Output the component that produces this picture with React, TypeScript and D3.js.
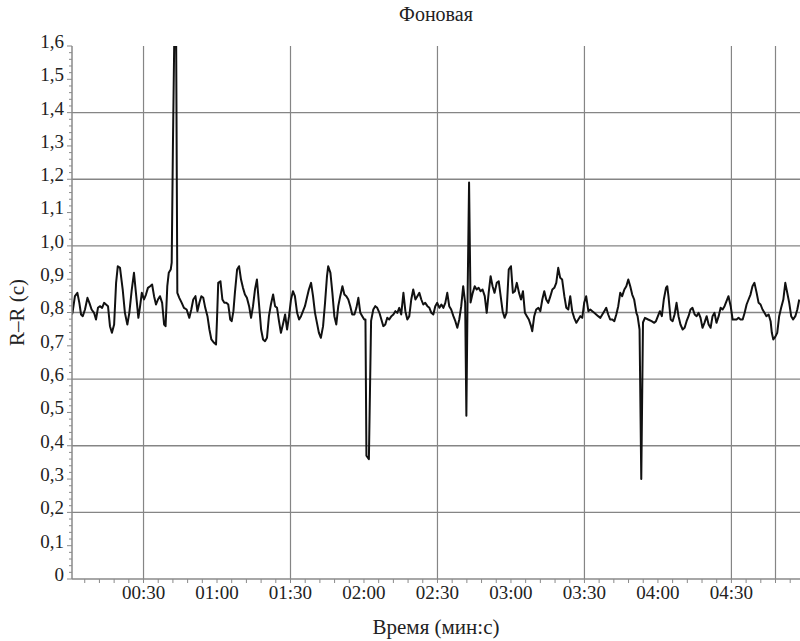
import React from "react";
import * as d3 from "d3";

// Record time (s) and R-R interval (s)
const times = [
  0.8, 1.1, 2.0, 3.0, 3.8, 4.5, 5.2, 6.1, 7.1, 7.9, 8.8, 9.8, 10.6, 11.4, 12.2, 13.1, 13.9, 14.7, 15.5, 16.3,
  17.1, 18.0, 18.8, 19.5, 20.4, 21.5, 22.4, 23.4, 24.2, 25.2, 26.1, 26.9, 27.9, 28.6, 29.3, 30.2, 31.0, 31.8,
  32.7, 33.5, 34.3, 35.1, 35.9, 36.7, 37.6, 38.4, 39.0, 39.7, 40.3, 41.1, 41.5, 42.0, 42.6, 43.3, 43.8, 44.6,
  45.6, 46.5, 47.6, 48.7, 49.5, 50.3, 51.2, 52.0, 52.8, 53.6, 54.4, 55.2, 56.1, 56.9, 57.7, 58.8, 59.6,
  60.0, 60.5, 61.4, 62.2, 63.0, 63.8, 64.6, 65.4, 66.0, 66.7, 67.3, 68.2, 69.0, 69.8, 70.6, 71.4, 72.2, 73.1,
  73.9, 74.7, 75.5, 76.3, 77.1, 78.0, 78.8, 79.6, 80.4, 81.2, 82.0, 82.9, 83.7, 84.5, 85.3, 86.1, 86.9, 87.8,
  88.6, 89.4, 90.2, 91.0, 91.8, 92.7, 93.5, 94.3, 95.1, 95.9, 96.7, 97.5, 98.4, 99.2, 100.0, 100.8, 101.6,
  102.4, 103.3, 104.1, 104.9, 105.4, 106.3, 107.1, 107.9, 108.7, 109.5, 110.3, 111.2, 112.0, 112.8, 113.6,
  114.4, 115.2, 116.1, 116.9, 117.7, 118.5, 119.3, 120.1,
  120.6, 121.0, 122.0, 122.9, 123.8, 124.6, 125.4, 126.3, 127.1, 127.9, 128.7, 129.5, 130.3, 131.2, 132.0,
  132.8, 133.6, 134.4, 135.2, 136.1, 136.9, 137.7, 138.5, 139.3, 140.1, 141.0, 141.8, 142.6, 143.4, 144.2,
  145.0, 145.9, 146.7, 147.5, 148.3, 149.1, 149.9, 150.8, 151.6, 152.4, 153.2, 154.0, 154.8, 155.6, 156.5,
  157.3, 158.1, 158.9, 159.7, 160.5, 161.3, 161.8, 162.3, 162.9, 163.5, 164.4, 165.2, 166.0, 166.8, 167.6,
  168.4, 169.3, 170.1, 170.9, 171.7, 172.5, 173.3, 174.2, 175.0, 175.8, 176.6, 177.4, 178.2, 179.1,
  180.0, 180.8, 181.6, 182.4, 183.3, 184.1, 184.9, 185.7, 186.5, 187.3, 188.2, 188.7, 189.5, 190.3, 191.2,
  192.0, 192.8, 193.6, 194.4, 195.2, 196.1, 196.9, 197.7, 198.5, 199.3, 200.1, 200.9, 201.8, 202.6, 203.4,
  204.2, 205.0, 205.8, 206.7, 207.5, 208.3, 209.1, 209.9, 210.7, 211.6, 212.4, 213.2, 214.0, 214.8, 215.6,
  216.5, 217.3, 218.1, 218.9, 219.7, 220.5, 221.4, 222.2, 223.0, 223.8, 224.6, 225.4, 226.3, 227.1, 227.9,
  228.7, 229.5, 230.3, 231.2, 231.7, 232.5, 233.2, 233.9, 234.7, 236.0, 237.4, 238.5,
  239.2, 240.0, 240.8, 241.6, 242.4, 243.3, 243.8, 244.3, 245.2, 246.0, 246.8, 247.6, 248.4, 249.2, 250.1,
  250.9, 251.7, 252.5, 253.3, 254.1, 255.0, 255.8, 256.6, 257.4, 258.2, 259.0, 259.9, 260.7, 261.5, 262.3,
  263.1, 263.9, 264.8, 265.6, 266.4, 267.2, 268.0, 268.8, 269.7, 270.5, 271.3, 272.1, 272.9, 273.7, 274.6,
  275.4, 276.2, 277.0, 277.8, 278.6, 279.4, 280.3, 281.1, 281.9, 282.7, 283.5, 284.3, 285.2, 286.0, 286.5,
  287.1, 287.9, 288.7, 289.5, 290.3, 291.2, 292.0, 292.8, 293.6, 294.4, 295.2, 296.1, 296.9, 297.7,
];

const rr = [
  0.794, 0.804, 0.849, 0.859, 0.829, 0.794, 0.789, 0.809, 0.844, 0.829, 0.809, 0.799, 0.779, 0.814, 0.819, 0.814, 0.829, 0.824, 0.819, 0.759,
  0.739, 0.764, 0.889, 0.939, 0.934, 0.869, 0.799, 0.764, 0.799, 0.869, 0.919, 0.859, 0.784, 0.819, 0.859, 0.839, 0.854, 0.874,
  0.879, 0.884, 0.849, 0.824, 0.839, 0.849, 0.829, 0.764, 0.759, 0.879, 0.919, 0.929, 0.95, 1.3, 1.65, 1.65, 0.859, 0.844,
  0.829, 0.814, 0.809, 0.784, 0.809, 0.839, 0.849, 0.804, 0.829, 0.849, 0.844, 0.814, 0.789, 0.749, 0.719, 0.709, 0.704,
  0.78, 0.889, 0.894, 0.839, 0.829, 0.829, 0.824, 0.779, 0.774, 0.804, 0.859, 0.929, 0.939, 0.899, 0.874, 0.854, 0.844, 0.819,
  0.784, 0.819, 0.869, 0.899, 0.829, 0.749, 0.719, 0.714, 0.724, 0.789, 0.824, 0.854, 0.819, 0.814, 0.774, 0.739, 0.764, 0.794,
  0.749, 0.789, 0.839, 0.864, 0.849, 0.799, 0.779, 0.789, 0.804, 0.819, 0.844, 0.869, 0.889, 0.849, 0.799, 0.769, 0.739,
  0.724, 0.759, 0.829, 0.909, 0.939, 0.919, 0.859, 0.789, 0.764, 0.819, 0.849, 0.879, 0.854, 0.849, 0.839,
  0.819, 0.794, 0.794, 0.814, 0.844, 0.799, 0.789, 0.779,
  0.779, 0.37, 0.36, 0.775, 0.809, 0.819, 0.814, 0.799, 0.779, 0.759, 0.764, 0.784, 0.779, 0.789, 0.794,
  0.804, 0.799, 0.814, 0.794, 0.859, 0.804, 0.779, 0.789, 0.839, 0.869, 0.839, 0.849, 0.859, 0.839, 0.824,
  0.829, 0.819, 0.814, 0.799, 0.794, 0.819, 0.829, 0.814, 0.824, 0.814, 0.829, 0.859, 0.819, 0.809, 0.789,
  0.774, 0.754, 0.779, 0.819, 0.879, 0.829, 0.49, 0.85, 1.19, 0.83, 0.859, 0.879, 0.869, 0.874, 0.864,
  0.869, 0.849, 0.799, 0.859, 0.909, 0.879, 0.859, 0.889, 0.894, 0.849, 0.804, 0.784, 0.799, 0.929,
  0.939, 0.859, 0.864, 0.889, 0.859, 0.839, 0.864, 0.799, 0.789, 0.779, 0.759, 0.744, 0.789, 0.809, 0.814,
  0.804, 0.839, 0.864, 0.839, 0.829, 0.849, 0.869, 0.874, 0.889, 0.934, 0.904, 0.899, 0.849, 0.814, 0.809,
  0.849, 0.804, 0.784, 0.769, 0.779, 0.789, 0.784, 0.829, 0.849, 0.804, 0.809, 0.804, 0.799, 0.794, 0.789,
  0.784, 0.794, 0.804, 0.814, 0.794, 0.779, 0.779, 0.774, 0.794, 0.819, 0.859, 0.849, 0.869, 0.879, 0.899,
  0.879, 0.854, 0.839, 0.799, 0.789, 0.749, 0.30, 0.77, 0.784, 0.779, 0.774, 0.769,
  0.774, 0.789, 0.804, 0.789, 0.839, 0.874, 0.879, 0.849, 0.779, 0.774, 0.794, 0.829, 0.789, 0.764, 0.749,
  0.754, 0.774, 0.789, 0.809, 0.814, 0.794, 0.789, 0.799, 0.784, 0.754, 0.769, 0.789, 0.764, 0.754, 0.789,
  0.799, 0.769, 0.789, 0.814, 0.809, 0.819, 0.834, 0.849, 0.819, 0.779, 0.779, 0.779, 0.784, 0.779, 0.779,
  0.799, 0.824, 0.839, 0.854, 0.879, 0.889, 0.859, 0.829, 0.824, 0.809, 0.799, 0.789, 0.794, 0.774, 0.739,
  0.719, 0.727, 0.739, 0.789, 0.814, 0.839, 0.889, 0.859, 0.829, 0.789, 0.779, 0.789, 0.809, 0.839,
];

// Axis ticks
const yMajor = d3.range(0, 17).map((i) => i / 10);
const yMinor = d3.range(0, 81).map((i) => i * 0.02).filter((_, i) => i % 5 !== 0);
const yGrid = [0.2, 0.4, 0.6, 0.8, 1.0, 1.2, 1.4];
const xLabels = [30, 60, 90, 120, 150, 180, 210, 240, 270];
const xMinor = d3.range(6, 298, 6);
const xGrid = [30, 90, 150, 210, 270, 288];

const width = 800;
const height = 641;
const margin = { top: 46, right: 0, bottom: 62, left: 72 };

const font = "'Liberation Serif', 'DejaVu Serif', 'Times New Roman', serif";
const gridColor = "#858585";
const axisColor = "#8a8a8a";

const fmtY = (v: number) => (v === 0 ? "0" : d3.format(".1f")(v).replace(".", ","));
const fmtX = (s: number) =>
  `${String(Math.floor(s / 60)).padStart(2, "0")}:${String(s % 60).padStart(2, "0")}`;

const textStyle = { fontFamily: font, fill: "#222" };

export default function App() {
  const x = d3.scaleLinear().domain([0.8, 298]).range([margin.left, width - margin.right]);
  const y = d3.scaleLinear().domain([0, 1.6]).range([height - margin.bottom, margin.top]);

  const points = times.map((t, i) => [t, rr[i]] as [number, number]);
  const line = d3
    .line<[number, number]>()
    .x((d) => x(d[0]))
    .y((d) => y(d[1]));

  const x0 = margin.left;
  const x1 = width - margin.right;
  const yBottom = height - margin.bottom;

  return (
    <svg
      width={width}
      height={height}
      style={{ position: "absolute", left: 0, top: 0, background: "#fff" }}
    >
      <defs>
        <clipPath id="plot-clip">
          <rect x={x0} y={margin.top} width={x1 - x0} height={yBottom - margin.top} />
        </clipPath>
      </defs>

      {/* grid */}
      {yGrid.map((v) => (
        <line key={"gy" + v} x1={x0} x2={x1} y1={y(v)} y2={y(v)} stroke={gridColor} strokeWidth={1.3} />
      ))}
      {xGrid.map((t) => (
        <line key={"gx" + t} x1={x(t)} x2={x(t)} y1={margin.top} y2={yBottom} stroke={gridColor} strokeWidth={1.2} />
      ))}

      {/* trace */}
      <path
        d={line(points) || ""}
        fill="none"
        stroke="#111"
        strokeWidth={2}
        strokeLinejoin="round"
        clipPath="url(#plot-clip)"
      />

      {/* y axis */}
      <line x1={x0} x2={x0} y1={margin.top} y2={yBottom} stroke={axisColor} strokeWidth={1.5} />
      {yMinor.map((v) => (
        <line key={"ym" + v} x1={x0 - 3} x2={x0} y1={y(v)} y2={y(v)} stroke={axisColor} />
      ))}
      {yMajor.map((v) => (
        <g key={"yM" + v}>
          <line x1={x0 - 5} x2={x0} y1={y(v)} y2={y(v)} stroke={axisColor} />
          <text x={x0 - 8} y={y(v)} dy="0.1em" textAnchor="end" fontSize={19} style={textStyle}>
            {fmtY(v)}
          </text>
        </g>
      ))}

      {/* x axis */}
      <line x1={x0} x2={x1} y1={yBottom} y2={yBottom} stroke={axisColor} strokeWidth={1.5} />
      {xMinor.map((t) => (
        <line key={"xm" + t} x1={x(t)} x2={x(t)} y1={yBottom} y2={yBottom + 4} stroke={axisColor} />
      ))}
      {xLabels.map((t) => (
        <text key={"xl" + t} x={x(t)} y={yBottom + 20} textAnchor="middle" fontSize={19} style={textStyle}>
          {fmtX(t)}
        </text>
      ))}

      {/* titles */}
      <text x={(x0 + x1) / 2} y={21} textAnchor="middle" fontSize={20} style={textStyle}>
        Фоновая
      </text>
      <text x={(x0 + x1) / 2} y={634} textAnchor="middle" fontSize={21} style={textStyle}>
        Время (мин:с)
      </text>
      <text
        transform={`translate(24, ${y(0.8)}) rotate(-90)`}
        textAnchor="middle"
        fontSize={21}
        style={textStyle}
      >
        R–R (с)
      </text>
    </svg>
  );
}
